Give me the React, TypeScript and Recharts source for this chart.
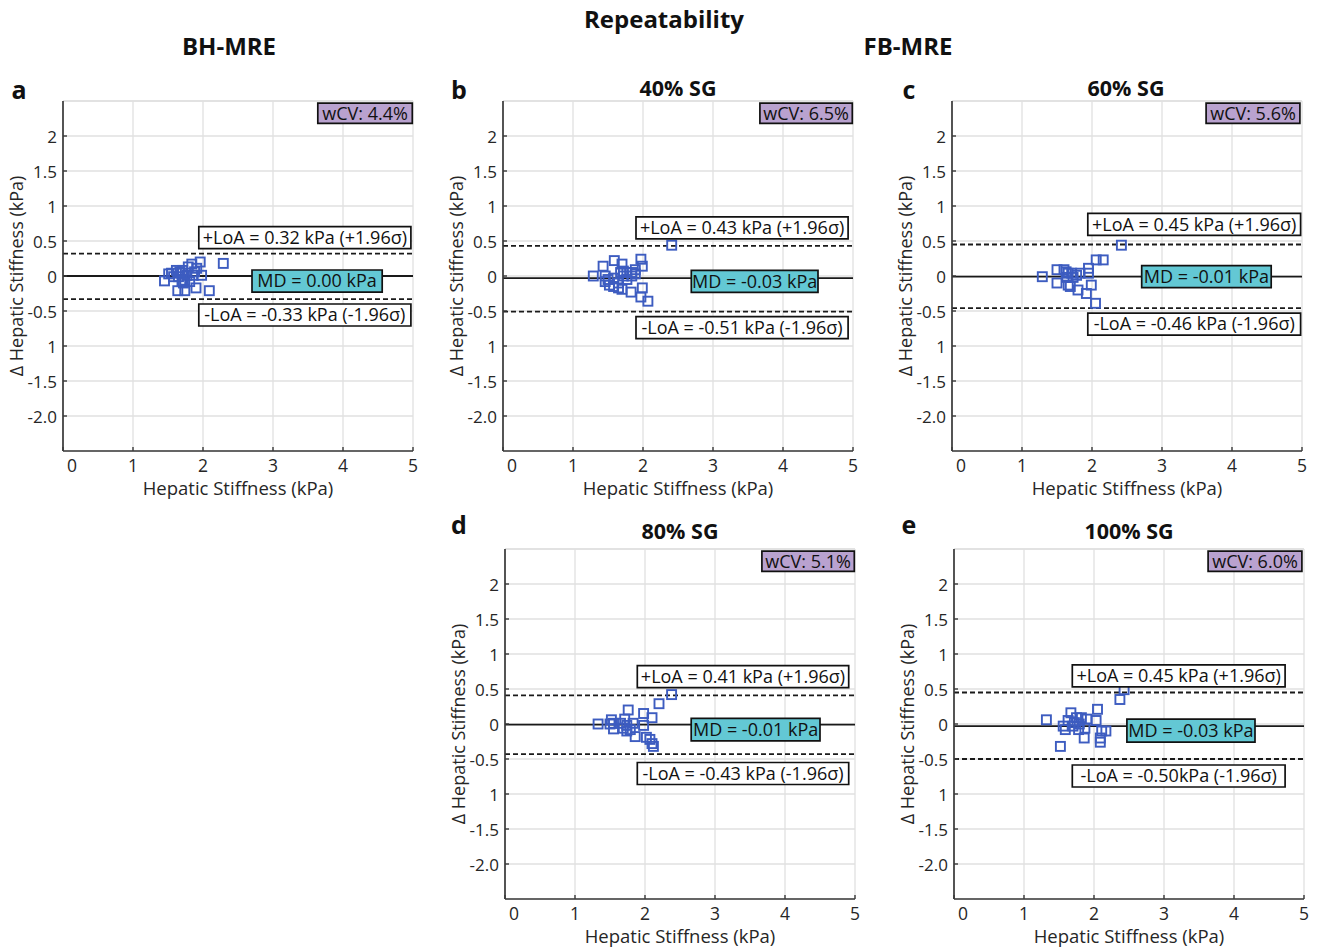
import React from 'react';
import { ScatterChart, Scatter, XAxis, YAxis, CartesianGrid, ReferenceLine, ReferenceArea } from 'recharts';

// axes
const xTicks = [0, 1, 2, 3, 4, 5];
const yTicks = [-2, -1.5, -1, -0.5, 0, 0.5, 1, 1.5, 2];
const yTickLabels = ['-2.0', '-1.5', '1', '-0.5', '0', '0.5', '1', '1.5', '2'];

// panel text
const panelLetters = ['a', 'b', 'c', 'd', 'e'];
const panelTitles = ['', '40% SG', '60% SG', '80% SG', '100% SG'];
const wcvLabels = ['wCV: 4.4%', 'wCV: 6.5%', 'wCV: 5.6%', 'wCV: 5.1%', 'wCV: 6.0%'];

// Bland-Altman stats
const mdValues = [0.0, -0.03, -0.01, -0.01, -0.03];
const loaUpper = [0.32, 0.43, 0.45, 0.41, 0.45];
const loaLower = [-0.33, -0.51, -0.46, -0.43, -0.5];
const mdLabels = ['MD = 0.00 kPa', 'MD = -0.03 kPa', 'MD = -0.01 kPa', 'MD = -0.01 kPa', 'MD = -0.03 kPa'];
const upperLabels = [
  '+LoA = 0.32 kPa (+1.96σ)', '+LoA = 0.43 kPa (+1.96σ)', '+LoA = 0.45 kPa (+1.96σ)',
  '+LoA = 0.41 kPa (+1.96σ)', '+LoA = 0.45 kPa (+1.96σ)',
];
const lowerLabels = [
  '-LoA = -0.33 kPa (-1.96σ)', '-LoA = -0.51 kPa (-1.96σ)', '-LoA = -0.46 kPa (-1.96σ)',
  '-LoA = -0.43 kPa (-1.96σ)', '-LoA = -0.50kPa (-1.96σ)',
];

// scatter points: mean stiffness (x) vs difference (y)
const bhMean = [1.45, 1.51, 1.62, 1.71, 1.65, 1.74, 1.84, 1.96, 1.91, 1.98, 1.86, 1.64, 1.74, 1.9, 2.09, 2.29, 1.77, 1.81, 1.7, 1.58, 1.79, 1.88, 1.7, 1.55, 1.67, 1.72];
const bhDiff = [-0.07, 0.03, 0.08, 0.08, -0.01, -0.06, 0.17, 0.2, 0.11, 0.01, 0.01, -0.21, -0.21, -0.17, -0.21, 0.18, 0.01, -0.08, -0.08, -0.01, 0.13, 0.06, 0.04, 0.04, 0.06, -0.1];
const sg40Mean = [2.41, 1.29, 1.43, 1.59, 1.7, 1.97, 1.99, 1.89, 1.68, 1.77, 1.84, 1.72, 1.46, 1.5, 1.58, 1.46, 1.52, 1.58, 1.65, 1.65, 1.7, 1.77, 1.84, 1.83, 1.99, 1.97, 2.07, 1.72, 1.89];
const sg40Diff = [0.44, 0.0, 0.14, 0.22, 0.17, 0.24, 0.14, 0.09, 0.05, 0.05, 0.05, 0.07, 0.0, -0.05, -0.03, -0.08, -0.13, -0.15, -0.1, -0.17, -0.19, -0.05, 0.0, -0.23, -0.17, -0.3, -0.36, 0.0, 0.03];
const sg60Mean = [2.42, 1.29, 1.5, 1.6, 1.71, 1.83, 1.95, 1.95, 2.06, 2.16, 1.66, 1.64, 1.73, 1.5, 1.66, 1.69, 1.8, 1.92, 1.99, 2.05, 1.63, 1.78];
const sg60Diff = [0.44, -0.01, 0.09, 0.09, 0.04, 0.04, 0.11, 0.04, 0.23, 0.23, 0.04, -0.02, -0.02, -0.1, -0.13, -0.15, -0.2, -0.25, -0.13, -0.39, 0.06, 0.01];
const sg80Mean = [2.38, 2.2, 1.76, 1.98, 2.1, 1.33, 1.52, 1.55, 1.71, 1.83, 1.98, 1.55, 1.69, 1.74, 1.79, 1.86, 2.02, 2.07, 2.1, 2.12, 1.65, 1.74, 1.5];
const sg80Diff = [0.42, 0.29, 0.2, 0.15, 0.09, 0.0, 0.06, 0.01, 0.07, 0.01, -0.02, -0.07, -0.06, -0.1, -0.08, -0.18, -0.19, -0.22, -0.28, -0.32, 0.01, -0.02, 0.0];
const sg100Mean = [2.43, 2.37, 2.05, 1.32, 1.67, 1.63, 1.75, 1.82, 1.9, 2.03, 1.56, 1.59, 1.7, 1.78, 1.87, 1.86, 2.11, 2.17, 2.09, 2.09, 1.52, 1.79, 1.72];
const sg100Diff = [0.49, 0.35, 0.21, 0.06, 0.16, 0.05, 0.09, 0.09, 0.07, 0.05, -0.03, -0.08, -0.03, -0.08, -0.06, -0.2, -0.1, -0.1, -0.2, -0.26, -0.32, 0.0, 0.02];

const means = [bhMean, sg40Mean, sg60Mean, sg80Mean, sg100Mean];
const diffs = [bhDiff, sg40Diff, sg60Diff, sg80Diff, sg100Diff];

// layout: plot-area top-left in page px, annotation boxes in data units
const layout = [
  { left: 63, top: 101, letterX: 19, titleX: 0, wcv: [3.64, 4.99], up: [1.94, 4.97, 0.07], md: [2.7, 4.56, 0.086, -0.229], low: [1.94, 4.97, 0.07] },
  { left: 503, top: 101, letterX: 459, titleX: 678, wcv: [3.67, 4.99], up: [1.9, 4.93, 0.1], md: [2.69, 4.5, 0.11, -0.205], low: [1.9, 4.93, 0.07] },
  { left: 952, top: 101, letterX: 909, titleX: 1126, wcv: [3.63, 4.97], up: [1.94, 4.98, 0.13], md: [2.71, 4.56, 0.157, -0.157], low: [1.94, 4.98, 0.07] },
  { left: 505, top: 549, letterX: 459, titleX: 680, wcv: [3.67, 4.99], up: [1.89, 4.91, 0.11], md: [2.66, 4.5, 0.09, -0.23], low: [1.89, 4.91, 0.12] },
  { left: 954, top: 549, letterX: 909, titleX: 1129, wcv: [3.63, 4.97], up: [1.69, 4.73, 0.08], md: [2.47, 4.3, 0.1, -0.23], low: [1.69, 4.73, 0.086] },
];

const BOX_H = 0.314;
const GRID = '#e1e1e1';
const AXIS = '#3a3a3a';
const MARKER = '#3d5cc0';
const FONT = "'Open Sans', sans-serif";

const Square = (p: any) => {
  const { cx, cy } = p;
  if (cx == null || cy == null) return null;
  return <rect x={cx - 4.5} y={cy - 4.5} width={9} height={9} fill="none" stroke={MARKER} strokeWidth={1.9} />;
};

const XTick = (p: any) => {
  const { x, y, payload } = p;
  const dx = payload.value === 0 ? 9 : 0;
  return (
    <g>
      <line x1={x} x2={x} y1={y - 14} y2={y - 18} stroke={AXIS} strokeWidth={1.4} />
      <text x={x + dx} y={y} textAnchor="middle" dominantBaseline="central" fontSize={17.5} fill="#262626">
        {payload.value}
      </text>
    </g>
  );
};

const YTick = (p: any) => {
  const { x, y, payload } = p;
  const i = yTicks.indexOf(payload.value);
  return (
    <g>
      <line x1={x + 6} x2={x + 10} y1={y} y2={y} stroke={AXIS} strokeWidth={1.4} />
      <text x={x} y={y} textAnchor="end" dominantBaseline="central" fontSize={17} fill="#262626">
        {i >= 0 ? yTickLabels[i] : ''}
      </text>
    </g>
  );
};

const XLabel = () => (
  <text x={235} y={426} textAnchor="middle" dominantBaseline="central" fontSize={18.5} fill="#262626">
    Hepatic Stiffness (kPa)
  </text>
);

const YLabel = () => (
  <text transform="translate(13,215) rotate(-90)" textAnchor="middle" dominantBaseline="central" fontSize={18} fill="#262626">
    Δ Hepatic Stiffness (kPa)
  </text>
);

const boxLabel = (value: string) => ({ value, position: 'center' as const, fill: '#111', fontSize: 18 });

function Panel({ i }: { i: number }) {
  const L = layout[i];
  const data = means[i].map((x, k) => ({ x, y: diffs[i][k] }));
  return (
    <div style={{ position: 'absolute', left: L.left - 60, top: L.top - 40 }}>
      <ScatterChart width={430} height={440} margin={{ top: 40, right: 20, bottom: 0, left: 0 }}>
        <CartesianGrid stroke={GRID} strokeWidth={1.3} />
        <XAxis
          type="number" dataKey="x" domain={[0, 5]} ticks={xTicks} interval={0} height={50}
          axisLine={{ stroke: AXIS, strokeWidth: 1.7 }} tickLine={false} tickSize={0} tickMargin={14}
          tick={(p: any) => <XTick {...p} />} label={() => <XLabel />} allowDataOverflow
        />
        <YAxis
          type="number" dataKey="y" domain={[-2.5, 2.5]} ticks={yTicks} interval={0} width={60}
          axisLine={{ stroke: AXIS, strokeWidth: 1.7 }} tickLine={false} tickSize={0} tickMargin={6}
          tick={(p: any) => <YTick {...p} />} label={() => <YLabel />} allowDataOverflow
        />
        <ReferenceLine y={2.5} stroke={GRID} strokeWidth={1.3} />
        <ReferenceLine y={loaUpper[i]} stroke="#1a1a1a" strokeWidth={1.8} strokeDasharray="5 3" />
        <ReferenceLine y={loaLower[i]} stroke="#1a1a1a" strokeWidth={1.8} strokeDasharray="5 3" />
        <ReferenceLine y={mdValues[i]} stroke="#1a1a1a" strokeWidth={1.8} />
        <Scatter data={data} shape={Square} isAnimationActive={false} />
        <ReferenceArea
          x1={L.wcv[0]} x2={L.wcv[1]} y1={2.18} y2={2.47} fill="#b9a2cf" fillOpacity={1}
          stroke="#111" strokeWidth={1.7} label={boxLabel(wcvLabels[i])} zIndex={1500}
        />
        <ReferenceArea
          x1={L.up[0]} x2={L.up[1]} y1={loaUpper[i] + L.up[2]} y2={loaUpper[i] + L.up[2] + BOX_H}
          fill="#fff" fillOpacity={1} stroke="#111" strokeWidth={1.7} label={boxLabel(upperLabels[i])} zIndex={1500}
        />
        <ReferenceArea
          x1={L.md[0]} x2={L.md[1]} y1={mdValues[i] + L.md[3]} y2={mdValues[i] + L.md[2]}
          fill="#63c8d4" fillOpacity={1} stroke="#111" strokeWidth={1.7} label={boxLabel(mdLabels[i])} zIndex={1500}
        />
        <ReferenceArea
          x1={L.low[0]} x2={L.low[1]} y1={loaLower[i] - L.low[2] - BOX_H} y2={loaLower[i] - L.low[2]}
          fill="#fff" fillOpacity={1} stroke="#111" strokeWidth={1.7} label={boxLabel(lowerLabels[i])} zIndex={1500}
        />
      </ScatterChart>
    </div>
  );
}

export default function App() {
  return (
    <div style={{ position: 'absolute', left: 0, top: 0, width: 1318, height: 948, background: '#fff', fontFamily: FONT }}>
      <svg width={1318} height={948} style={{ position: 'absolute', left: 0, top: 0 }}>
        <g fontWeight={700} fill="#111" textAnchor="middle">
          <text x={664} y={28} fontSize={24}>Repeatability</text>
          <text x={229} y={55} fontSize={24}>BH-MRE</text>
          <text x={908} y={55} fontSize={24}>FB-MRE</text>
          {layout.map((L, i) => (
            <text key={'l' + i} x={L.letterX} y={i < 3 ? 99 : 534} fontSize={25}>{panelLetters[i]}</text>
          ))}
          {layout.map((L, i) =>
            panelTitles[i] ? (
              <text key={'t' + i} x={L.titleX} y={i < 3 ? 96 : 539} fontSize={21.5}>{panelTitles[i]}</text>
            ) : null,
          )}
        </g>
      </svg>
      {layout.map((_, i) => <Panel key={i} i={i} />)}
    </div>
  );
}
